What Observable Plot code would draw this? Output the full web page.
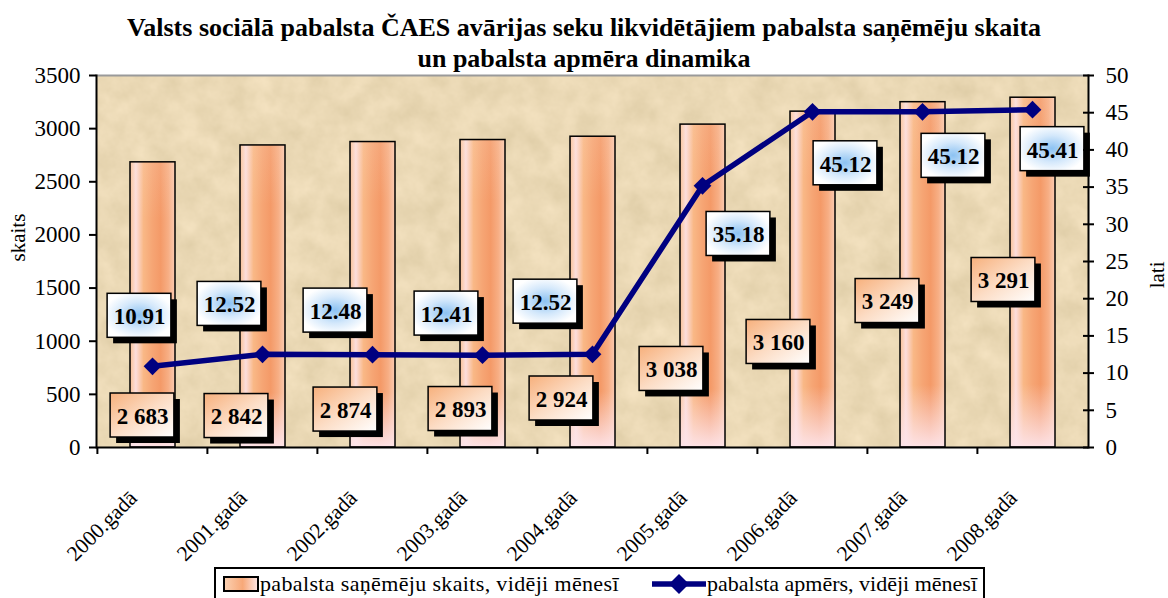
<!DOCTYPE html>
<html>
<head>
<meta charset="utf-8">
<script src="https://cdn.jsdelivr.net/npm/d3@7"></script>
<script src="https://cdn.jsdelivr.net/npm/@observablehq/plot@0.6"></script>
<style>
  html, body { margin: 0; padding: 0; background: #fff; }
  body { width: 1168px; height: 598px; position: relative; overflow: hidden; font-family: "Liberation Serif", serif; }
  #title { height: 50px; padding-top: 12px; box-sizing: border-box; text-align: center; font-family: "Liberation Serif", serif; font-weight: bold; font-size: 26px; line-height: 31px; white-space: nowrap; }
  #chart svg { display: block; overflow: visible; }
  #chart svg text { font-family: "Liberation Serif", serif !important; }
  #legend { position: absolute; left: 214px; top: 567px; width: 771px; height: 38px; border: 2px solid #000; box-sizing: border-box; font-family: "Liberation Serif", serif; font-size: 22px; background: #fff; }
  #legend .item { position: absolute; top: 0; height: 30px; display: flex; align-items: center; white-space: nowrap; }
</style>
</head>
<body>
<div id="title">Valsts sociālā pabalsta ČAES avārijas seku likvidētājiem pabalsta saņēmēju skaita<br>un pabalsta apmēra dinamika</div>
<div id="chart"></div>
<div id="legend">
  <div class="item" style="left:7px;">
    <svg width="36" height="16" style="overflow:visible">
      <defs>
        <linearGradient id="legSw" x1="0" y1="0" x2="1" y2="0">
          <stop offset="0" stop-color="#fbd2b4"/>
          <stop offset="0.55" stop-color="#f7a878"/>
          <stop offset="1" stop-color="#fde6e6"/>
        </linearGradient>
      </defs>
      <rect x="1" y="1" width="34" height="14" fill="url(#legSw)" stroke="#000" stroke-width="2"/>
    </svg>
    <span style="margin-left:1px; letter-spacing:0.35px">pabalsta saņēmēju skaits, vidēji mēnesī</span>
  </div>
  <div class="item" style="left:436px;">
    <svg width="54" height="22">
      <line x1="0" y1="11" x2="54" y2="11" stroke="#000080" stroke-width="5.5"/>
      <path d="M27,1 L37,11 L27,21 L17,11 Z" fill="#000080"/>
    </svg>
    <span style="margin-left:1px">pabalsta apmērs, vidēji mēnesī</span>
  </div>
</div>
<script>
// ---- data ----
const years = ["2000.gadā", "2001.gadā", "2002.gadā", "2003.gadā", "2004.gadā", "2005.gadā", "2006.gadā", "2007.gadā", "2008.gadā"];
const recipients = [2683, 2842, 2874, 2893, 2924, 3038, 3160, 3249, 3291];   // skaits
const amounts = [10.91, 12.52, 12.48, 12.41, 12.52, 35.18, 45.12, 45.12, 45.41]; // lati
const leftTicks = [0, 500, 1000, 1500, 2000, 2500, 3000, 3500];
const rightTicks = [0, 5, 10, 15, 20, 25, 30, 35, 40, 45, 50];

// manual data-label placement of the original chart (label centre in axis units, horizontal nudge)
const countLabelAt = [301, 296, 357, 362, 461, 739, 993, 1378, 1576];
const countLabelNudge = [-10, -26, -27, -22, -31, -31, -34, -35, -29];
const amountLabelAt = [17.7, 19.3, 18.4, 18.0, 19.6, 28.7, 38.2, 39.2, 40.1];
const amountLabelNudge = [-13, -33, -37, -36, -47, 36, 33, 31, 20];

// ---- build ----
const LEFT_MAX = 3500, RIGHT_MAX = 50, K = LEFT_MAX / RIGHT_MAX;
const fmtCount = d3.formatLocale({decimal: ".", thousands: " ", grouping: [3], currency: ["", ""]}).format(",");
const fmtAmount = d3.format(".2f");

const rows = years.map((year, i) => ({year, count: recipients[i], amount: amounts[i], amountK: amounts[i] * K}));

const W = 1168, H = 512, mt = 25, mb = 115, ml = 96, mr = 80;
const plotH = H - mt - mb;
const bandW = (W - ml - mr) / years.length;
const boxW = 64, boxH = 44, shadow = 6;
const halfBox = (boxH / 2) * LEFT_MAX / plotH; // half box height in y units
const boxInset = (bandW - boxW) / 2;
const FONT = "Liberation Serif";

function labelMarks(i, yCenter, nudge, text, fill) {
  const d = [{year: years[i], y1: yCenter - halfBox, y2: yCenter + halfBox, y: yCenter, text}];
  return [
    Plot.barY(d, {x: "year", y1: "y1", y2: "y2", insetLeft: boxInset, insetRight: boxInset, dx: nudge + shadow, dy: shadow, fill: "#000"}),
    Plot.barY(d, {x: "year", y1: "y1", y2: "y2", insetLeft: boxInset, insetRight: boxInset, dx: nudge, fill, stroke: "#000", strokeWidth: 1.5}),
    Plot.text(d, {x: "year", y: "y", text: "text", dx: nudge, dy: 1, fontSize: 23, fontWeight: "bold", fontFamily: FONT, fill: "#000"})
  ];
}

const labels = [];
rows.forEach((r, i) => {
  labels.push(...labelMarks(i, countLabelAt[i], countLabelNudge[i], fmtCount(r.count), "url(#countBox)"));
  labels.push(...labelMarks(i, amountLabelAt[i] * K, amountLabelNudge[i], fmtAmount(r.amount), "url(#amountBox)"));
});

const chart = Plot.plot({
  width: W, height: H,
  marginTop: mt, marginBottom: mb, marginLeft: ml, marginRight: mr,
  style: {fontFamily: FONT, fontSize: "21px", color: "#000", background: "transparent", overflow: "visible"},
  x: {domain: years, padding: 0, axis: null},
  y: {domain: [0, LEFT_MAX], axis: null},
  marks: [
    Plot.frame({fill: "#e8d7b4"}),
    Plot.barY(rows, {x: "year", y: "count", insetLeft: 33, insetRight: 32, fill: "url(#barH)"}),
    Plot.barY(rows, {x: "year", y: "count", insetLeft: 33, insetRight: 32, fill: "url(#barV)", stroke: "#000", strokeWidth: 1.5}),
    Plot.line(rows, {x: "year", y: "amountK", stroke: "#000080", strokeWidth: 5.5}),
    Plot.dot(rows, {x: "year", y: "amountK", symbol: "diamond2", r: 8, fill: "#000080", stroke: "none"}),
    ...labels,
    Plot.ruleY([LEFT_MAX], {stroke: "#9a9a9a", strokeWidth: 2}),
    Plot.ruleY([0], {stroke: "#000", strokeWidth: 2}),
    Plot.frame({anchor: "left", stroke: "#000", strokeWidth: 2}),
    Plot.frame({anchor: "right", stroke: "#000", strokeWidth: 2}),
    Plot.axisY({anchor: "left", ticks: leftTicks, tickFormat: d => String(d), tickSize: 7, tickPadding: 9, fontSize: 23, fontFamily: FONT, strokeWidth: 2, label: null}),
    Plot.axisY({anchor: "right", ticks: rightTicks.map(v => v * K), tickFormat: v => String(v / K), tickSize: 5, tickPadding: 12, fontSize: 23, fontFamily: FONT, strokeWidth: 2, label: null}),
    Plot.axisY({anchor: "right", ticks: rightTicks.map(v => v * K), tickFormat: () => "", tickSize: 6, dx: -6, strokeWidth: 2, label: null}),
    Plot.axisX({anchor: "bottom", tickSize: 7, dx: -bandW / 2, tickFormat: () => "", strokeWidth: 2, label: null}),
    Plot.axisX({anchor: "bottom", tickSize: 0, tickRotate: -45, tickPadding: 47, dx: -19, fontSize: 21.5, fontFamily: FONT, label: null}),
    Plot.text(["skaits"], {text: d => d, frameAnchor: "left", rotate: -90, dx: -78, fontSize: 21, fontFamily: FONT}),
    Plot.text(["lati"], {text: d => d, frameAnchor: "right", rotate: -90, dx: 69, fontSize: 21, fontFamily: FONT})
  ]
});

// gradients & paper texture
const svg = d3.select(chart);
const defs = svg.insert("defs", ":first-child");
function lin(id, x2, y2, stops) {
  const g = defs.append("linearGradient").attr("id", id).attr("x1", 0).attr("y1", 0).attr("x2", x2).attr("y2", y2);
  stops.forEach(([o, c, a]) => g.append("stop").attr("offset", o).attr("stop-color", c).attr("stop-opacity", a ?? 1));
}
lin("barH", 1, 0, [[0, "#f9c296"], [0.13, "#fcdedd"], [0.3, "#f9b886"], [0.5, "#f6a574"], [0.68, "#f49a68"], [0.85, "#f7ae84"], [1, "#fbcbb2"]]);
lin("barV", 0, 1, [[0, "#fde8d8", 0.15], [0.2, "#fde8d8", 0], [0.82, "#fde2e8", 0], [1, "#fde4ea", 0.95]]);
lin("countBox", 1, 1, [[0, "#f7b07c"], [0.5, "#fcdcc4"], [1, "#ffffff"]]);
const rg = defs.append("radialGradient").attr("id", "amountBox").attr("cx", 0.5).attr("cy", 0.5).attr("r", 0.55);
[[0, "#8cc2f2"], [0.55, "#d4e8fb"], [1, "#ffffff"]].forEach(([o, c]) => rg.append("stop").attr("offset", o).attr("stop-color", c));
const f = defs.append("filter").attr("id", "paper").attr("x", 0).attr("y", 0).attr("width", 1).attr("height", 1).attr("color-interpolation-filters", "sRGB");
f.append("feTurbulence").attr("type", "fractalNoise").attr("baseFrequency", 0.04).attr("numOctaves", 4).attr("seed", 7);
f.append("feColorMatrix").attr("type", "matrix").attr("values", "0.1 0 0 0 0.87  0.1 0 0 0 0.80  0.12 0 0 0 0.65  0 0 0 0 1");
svg.select('[aria-label="frame"]').attr("filter", "url(#paper)");

document.getElementById("chart").appendChild(chart);
</script>
</body>
</html>
